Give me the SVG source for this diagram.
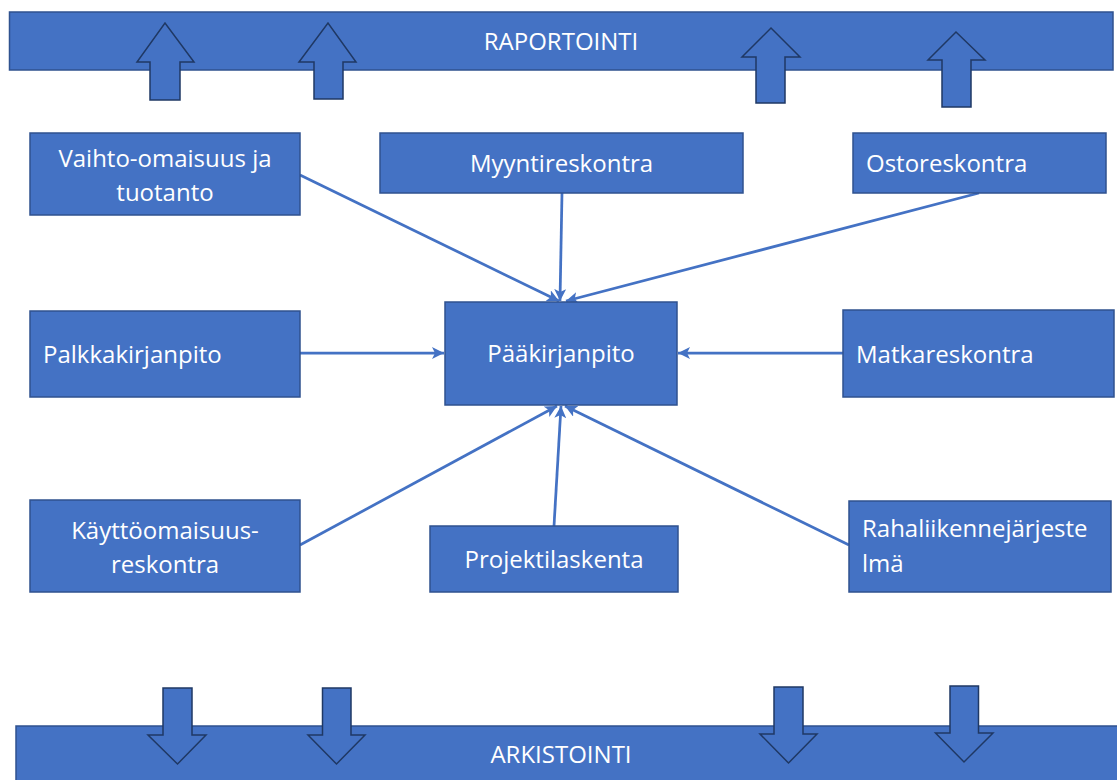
<svg xmlns="http://www.w3.org/2000/svg" width="1117" height="780" viewBox="0 0 1117 780">
<defs>
<style>
.box{fill:#4472C4;stroke:#2F528F;stroke-width:1.5}
.band{fill:#4472C4;stroke:#2F528F;stroke-width:1.5}
.blk{fill:#4472C4;stroke:#1F3864;stroke-width:1.5}
.t{font-family:"Open Sans","Noto Sans",sans-serif;font-size:24px;fill:#FFFFFF}
.c{text-anchor:middle}
.con{stroke:#4472C4;stroke-width:2.75;fill:none;marker-end:url(#ah)}
</style>
<marker id="ah" markerUnits="userSpaceOnUse" viewBox="0 0 12 12" refX="12" refY="6" markerWidth="12" markerHeight="12" orient="auto">
<path d="M0,0 L12,6 L0,12 L3,6 Z" fill="#4472C4"/>
</marker>
</defs>
<rect width="1117" height="780" fill="#FFFFFF"/>

<g id="raportointi">
<rect class="band" x="9.5" y="12" width="1103.5" height="58"/>
<text class="t c" x="561" y="50">RAPORTOINTI</text>
</g>
<g id="arkistointi">
<rect class="band" x="16" y="726" width="1110" height="70"/>
<text class="t c" x="561" y="763">ARKISTOINTI</text>
</g>

<g id="up-arrows">
<path class="blk" d="M150,100 L150,62 L137,62 L165,23 L194,62 L180,62 L180,100 Z"/>
<path class="blk" d="M314,99 L314,62 L299,62 L328,23 L356,62 L343,62 L343,99 Z"/>
<path class="blk" d="M756,103 L756,57 L742,57 L771,28 L800,57 L785,57 L785,103 Z"/>
<path class="blk" d="M942,107 L942,60 L928,60 L956,32 L985,60 L971,60 L971,107 Z"/>
</g>
<g id="down-arrows">
<path class="blk" d="M163,688 L192,688 L192,735 L206,735 L177.5,764 L148,735 L163,735 Z"/>
<path class="blk" d="M322.5,688 L351,688 L351,735 L365,735 L336.5,764 L308,735 L322.5,735 Z"/>
<path class="blk" d="M774,687 L803,687 L803,734 L817,734 L788.5,763 L760,734 L774,734 Z"/>
<path class="blk" d="M950,686 L978.5,686 L978.5,733 L993,733 L964,762 L935.5,733 L950,733 Z"/>
</g>

<g id="connectors">
<line class="con" x1="300" y1="175" x2="559" y2="301"/>
<line class="con" x1="562" y1="193" x2="560" y2="301"/>
<line class="con" x1="979" y1="193" x2="566" y2="301"/>
<line class="con" x1="300" y1="353" x2="444" y2="353"/>
<line class="con" x1="843" y1="353" x2="678" y2="353"/>
<line class="con" x1="300" y1="545" x2="557" y2="406"/>
<line class="con" x1="554" y1="526" x2="561" y2="406"/>
<line class="con" x1="849" y1="545" x2="565" y2="406"/>
</g>

<g id="vaihto">
<rect class="box" x="30" y="133" width="270" height="82"/>
<text class="t c" x="165" y="167">Vaihto-omaisuus ja</text>
<text class="t c" x="165" y="201">tuotanto</text>
</g>
<g id="myynti">
<rect class="box" x="380" y="133" width="363" height="60"/>
<text class="t c" x="561.5" y="172">Myyntireskontra</text>
</g>
<g id="osto">
<rect class="box" x="853" y="133" width="253" height="60"/>
<text class="t" x="866" y="172">Ostoreskontra</text>
</g>
<g id="palkka">
<rect class="box" x="30" y="311" width="270" height="86"/>
<text class="t" x="43" y="363">Palkkakirjanpito</text>
</g>
<g id="paakirjanpito">
<rect class="box" x="445" y="302" width="232" height="103"/>
<text class="t c" x="561" y="362">Pääkirjanpito</text>
</g>
<g id="matka">
<rect class="box" x="843" y="310" width="271" height="87"/>
<text class="t" x="856" y="363">Matkareskontra</text>
</g>
<g id="kaytto">
<rect class="box" x="30" y="500" width="270" height="92"/>
<text class="t c" x="165" y="539">Käyttöomaisuus-</text>
<text class="t c" x="165" y="573">reskontra</text>
</g>
<g id="projekti">
<rect class="box" x="430" y="526" width="248" height="66"/>
<text class="t c" x="554" y="568">Projektilaskenta</text>
</g>
<g id="raha">
<rect class="box" x="849" y="501" width="262" height="91"/>
<text class="t" x="862" y="537">Rahaliikennejärjeste</text>
<text class="t" x="862" y="572">lmä</text>
</g>
</svg>
